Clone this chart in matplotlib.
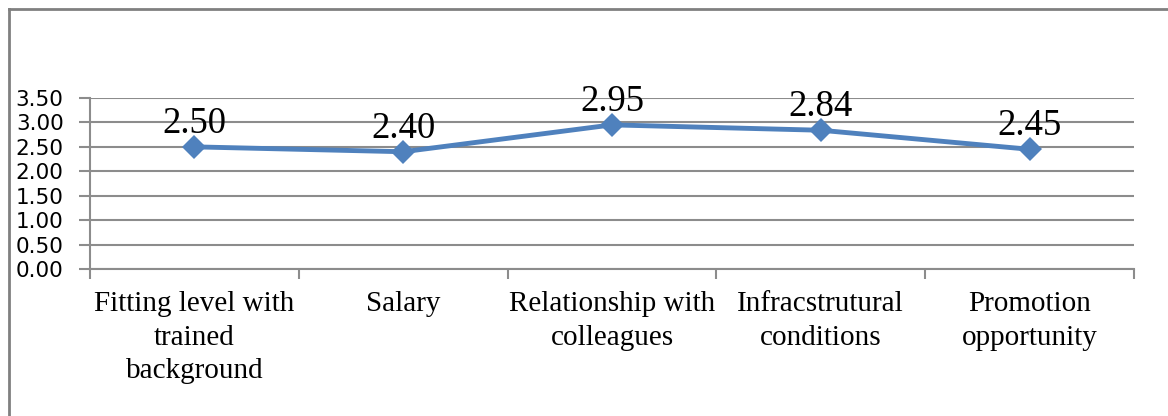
import matplotlib.pyplot as plt
from matplotlib.lines import Line2D
import numpy as np

# chart data
categories = ["Fitting level with\ntrained\nbackground", "Salary",
              "Relationship with\ncolleagues", "Infracstrutural\nconditions",
              "Promotion\nopportunity"]
scores = [2.50, 2.40, 2.95, 2.84, 2.45]
y_ticks = [0.0, 0.5, 1.0, 1.5, 2.0, 2.5, 3.0, 3.5]

line_color = "#4F81BD"
grid_color = "#8C8C8C"

fig = plt.figure(figsize=(11.68, 4.16), dpi=100)
ax = fig.add_axes([90 / 1168, 1 - 269 / 416, 1044 / 1168, 171 / 416])

x = np.arange(len(categories))
ax.plot(x, scores, color=line_color, linewidth=3.5, marker="D",
        markersize=12, markeredgewidth=0, zorder=3)

# data labels above each point
for xi, v in zip(x, scores):
    ax.annotate(f"{v:.2f}", (xi, v), xytext=(0, 14), textcoords="offset pixels",
                ha="center", va="baseline", fontsize=26.5,
                family="Liberation Serif", color="black")

ax.set_xlim(-0.5, len(categories) - 0.5)
ax.set_ylim(0, 3.5)
ax.set_yticks(y_ticks)
ax.set_yticklabels([f"{t:.2f}" for t in y_ticks], family="DejaVu Sans", fontsize=15.5)
ax.yaxis.grid(True, color=grid_color, linewidth=1.5)
ax.set_axisbelow(True)

# category labels centred, tick marks at category boundaries
ax.set_xticks(x)
ax.set_xticklabels(categories, family="Liberation Serif", fontsize=21,
                   linespacing=1.38)
ax.set_xticks(np.arange(-0.5, len(categories)), minor=True)
ax.tick_params(axis="x", which="major", length=0, pad=16)
ax.tick_params(axis="x", which="minor", length=7, width=1.5, color=grid_color)
ax.tick_params(axis="y", length=8, width=1.5, color=grid_color, pad=11)

for side in ["top", "right"]:
    ax.spines[side].set_visible(False)
for side in ["left", "bottom"]:
    ax.spines[side].set_color(grid_color)
    ax.spines[side].set_linewidth(1.5)

# chart frame (top and left edges visible)
fig.add_artist(Line2D([8.5 / 1168, 1], [1 - 8.5 / 416] * 2, color="#808080",
                      linewidth=2, transform=fig.transFigure))
fig.add_artist(Line2D([8.5 / 1168] * 2, [0, 1 - 8.5 / 416], color="#808080",
                      linewidth=2, transform=fig.transFigure))

fig.savefig("out.png", dpi=100)
